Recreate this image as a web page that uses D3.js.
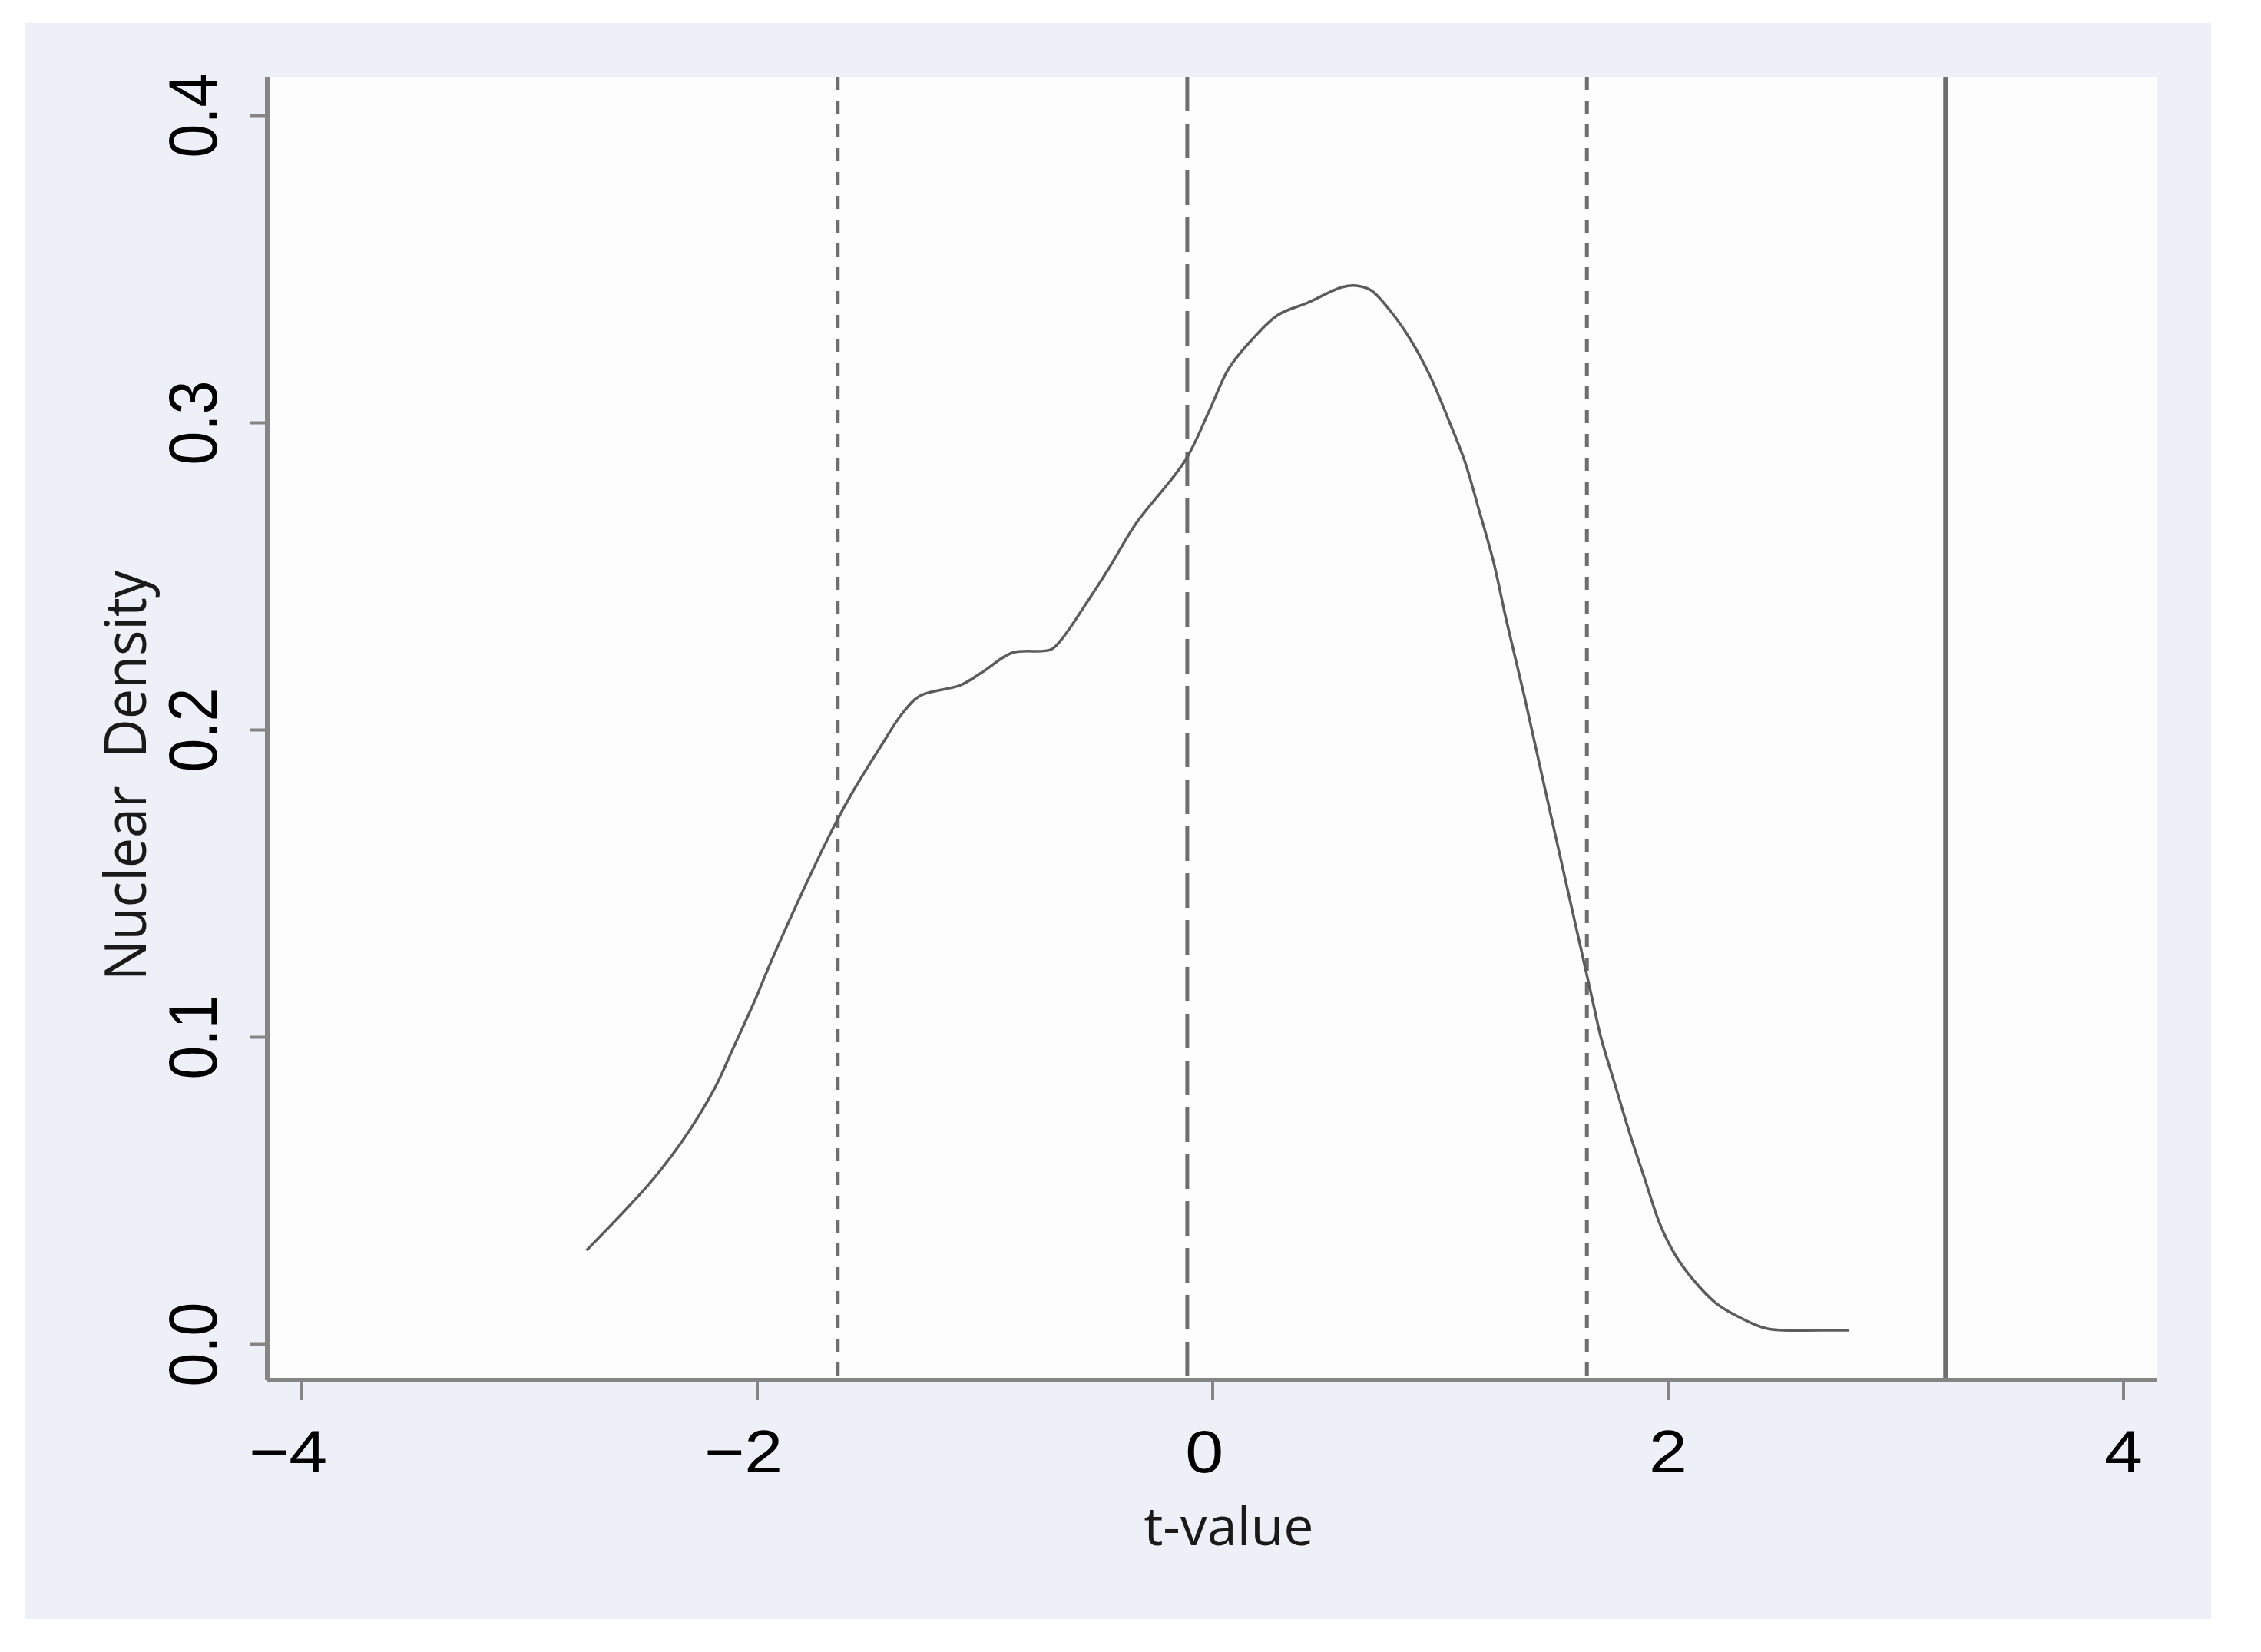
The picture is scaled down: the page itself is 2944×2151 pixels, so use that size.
<!DOCTYPE html>
<html>
<head>
<meta charset="utf-8">
<script src="https://cdn.jsdelivr.net/npm/d3@7"></script>
<style>
  html, body { margin: 0; padding: 0; background: #ffffff; }
  svg { display: block; }
</style>
</head>
<body>
<script>
// ---- data ----
const tValues = [-2.748,-2.478,-2.330,-2.185,-2.107,-2.005,-1.949,-1.803,-1.651,-1.577,-1.452,-1.364,-1.284,-1.105,-1.004,-0.879,-0.711,-0.666,-0.541,-0.45,-0.336,-0.120,-0.012,0.072,0.181,0.289,0.42,0.569,0.633,0.697,0.785,0.87,0.957,1.042,1.108,1.173,1.237,1.29,1.37,1.46,1.56,1.668,1.706,1.773,1.831,1.898,1.966,2.033,2.111,2.212,2.326,2.438,2.674,2.796];
const density = [0.0305,0.0517,0.0658,0.0833,0.0958,0.1125,0.1225,0.1467,0.170,0.180,0.195,0.205,0.211,0.2145,0.219,0.225,0.226,0.229,0.2425,0.253,0.267,0.2875,0.304,0.3175,0.3275,0.335,0.339,0.344,0.3445,0.343,0.336,0.327,0.315,0.300,0.2875,0.271,0.254,0.236,0.211,0.181,0.148,0.1125,0.100,0.0833,0.069,0.054,0.039,0.029,0.021,0.0133,0.0083,0.005,0.0045,0.0045];
const criticalValues = [-1.645, 1.645];   // short-dashed lines
const meanValue = [-0.11];                // long-dashed line
const actualValue = [3.22];               // solid line
const xTicks = [-4, -2, 0, 2, 4];
const yTicks = [0.0, 0.1, 0.2, 0.3, 0.4];
const xTitle = "t-value";
const yTitle = "Nuclear  Density";

const W = 2944, H = 2151;
const plot = { left: 348, right: 2809, top: 100, bottom: 1797 };

const svg = d3.select("body").append("svg").attr("width", W).attr("height", H);

// outer panel
svg.append("rect").attr("x", 33).attr("y", 30).attr("width", 2879 - 33).attr("height", 2108 - 30)
  .attr("fill", "#eef0f7");
// plot region
svg.append("rect").attr("x", plot.left).attr("y", plot.top)
  .attr("width", plot.right - plot.left).attr("height", plot.bottom - plot.top)
  .attr("fill", "#fdfdfd");

const x = d3.scaleLinear().domain([-4.15, 4.15]).range([plot.left, plot.right]);
const y = d3.scaleLinear().domain([-0.01175, 0.4125]).range([plot.bottom, plot.top]);

// reference lines
const vline = (vals, dash, width, color) => {
  svg.append("g").selectAll("line").data(vals).join("line")
    .attr("x1", d => x(d)).attr("x2", d => x(d))
    .attr("y1", plot.top).attr("y2", plot.bottom)
    .attr("stroke", color).attr("stroke-width", width)
    .attr("stroke-dasharray", dash);
};
vline(criticalValues, "17 14", 5, "#6e6e6e");
vline(meanValue, "45 16", 5, "#6e6e6e");
vline(actualValue, null, 6, "#6f6f6f");

// density curve
const pts = tValues.map((t, i) => [t, density[i]]);
svg.append("path").datum(pts)
  .attr("fill", "none").attr("stroke", "#5c5c5c").attr("stroke-width", 3.5)
  .attr("stroke-linejoin", "round")
  .attr("d", d3.line().x(d => x(d[0])).y(d => y(d[1])).curve(d3.curveCatmullRom.alpha(0.5)));

// axes
const axisColor = "#858585";
const gx = svg.append("g").attr("transform", `translate(0,${plot.bottom})`)
  .call(d3.axisBottom(x).tickValues(xTicks).tickSize(26).tickPadding(0).tickFormat(d3.format("d")));
gx.select(".domain").attr("stroke", axisColor).attr("stroke-width", 6)
  .attr("d", `M${plot.left},0H${plot.right}`);
gx.selectAll(".tick line").attr("stroke", axisColor).attr("stroke-width", 4);
gx.selectAll(".tick text")
  .attr("y", 120).attr("dy", 0)
  .attr("dx", d => d < 0 ? "-0.2em" : (d === 0 ? "-0.12em" : 0))
  .attr("transform", "scale(1.15,1)")
  .attr("fill", "#000")
  .style("font-family", "'Liberation Sans', Arial, sans-serif")
  .style("font-size", "78px");

const gy = svg.append("g").attr("transform", `translate(${plot.left},0)`)
  .call(d3.axisLeft(y).tickValues(yTicks).tickSize(22).tickPadding(0).tickFormat(d3.format(".1f")));
gy.select(".domain").attr("stroke", axisColor).attr("stroke-width", 6)
  .attr("d", `M0,${plot.top}V${plot.bottom}`);
gy.selectAll(".tick line").attr("stroke", axisColor).attr("stroke-width", 4);
gy.selectAll(".tick text")
  .attr("x", 0).attr("y", 0).attr("dy", 0)
  .attr("text-anchor", "middle")
  .attr("transform", "translate(-66,0) scale(1.12,1) rotate(-90)")
  .attr("fill", "#000")
  .style("font-family", "'Liberation Sans', Arial, sans-serif")
  .style("font-size", "79px");

// axis titles
svg.append("text").text(xTitle)
  .attr("x", 1600).attr("y", 2012).attr("text-anchor", "middle")
  .attr("fill", "#1a1a1a")
  .style("font-family", "'Open Sans', sans-serif").style("font-size", "70px");

svg.append("text").text(yTitle)
  .attr("text-anchor", "middle")
  .attr("transform", "translate(190,1010) scale(1.06,1) rotate(-90)")
  .attr("fill", "#1a1a1a")
  .style("white-space", "pre")
  .style("font-family", "'Open Sans', sans-serif").style("font-size", "70px");
</script>
</body>
</html>
